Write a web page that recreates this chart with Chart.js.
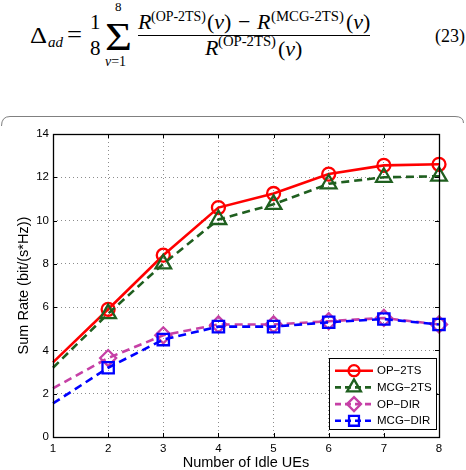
<!DOCTYPE html>
<html>
<head>
<meta charset="utf-8">
<script src="https://cdn.jsdelivr.net/npm/chart.js@4"></script>
<style>
  html, body { margin: 0; padding: 0; background: #fff; }
  #page { position: relative; width: 466px; height: 470px; overflow: hidden; }
  #eq { position: absolute; left: 0; top: 0; }
  #box { position: absolute; left: 0; top: 116px; width: 466px; height: 354px; }
</style>
</head>
<body>
<div id="page">
  <svg id="eq" width="466" height="130" font-family="'Liberation Serif','DejaVu Serif',serif" fill="#000">
    <text x="30" y="43" font-size="24" textLength="17" lengthAdjust="spacingAndGlyphs">Δ</text>
    <text x="48" y="47" font-size="15" font-style="italic">ad</text>
    <text x="67" y="43" font-size="26" textLength="15" lengthAdjust="spacingAndGlyphs">=</text>
    <text x="90" y="29" font-size="21">1</text>
    <text x="90" y="55" font-size="21">8</text>
    <text x="105" y="50" font-size="40" textLength="27" lengthAdjust="spacingAndGlyphs">Σ</text>
    <text x="115" y="11" font-size="13">8</text>
    <text x="105" y="66" font-size="14"><tspan font-style="italic">ν</tspan>=1</text>

    <!-- numerator -->
    <text x="138" y="29" font-size="22" font-style="italic">R</text>
    <text x="151" y="21" font-size="15" textLength="55" lengthAdjust="spacingAndGlyphs">(OP-2TS)</text>
    <text x="207" y="29" font-size="22">(<tspan font-style="italic">ν</tspan>)</text>
    <text x="238" y="29" font-size="22">−</text>
    <text x="257" y="29" font-size="22" font-style="italic">R</text>
    <text x="271" y="21" font-size="15" textLength="73" lengthAdjust="spacingAndGlyphs">(MCG-2TS)</text>
    <text x="346" y="29" font-size="22">(<tspan font-style="italic">ν</tspan>)</text>
    <line x1="138" y1="35.5" x2="370" y2="35.5" stroke="#000" stroke-width="1"/>
    <!-- denominator -->
    <text x="205" y="55" font-size="22" font-style="italic">R</text>
    <text x="218" y="46" font-size="15" textLength="58" lengthAdjust="spacingAndGlyphs">(OP-2TS)</text>
    <text x="278" y="56" font-size="22">(<tspan font-style="italic">ν</tspan>)</text>

    <text x="435" y="42" font-size="18">(23)</text>

    <!-- figure frame -->
    <path d="M1.5,126 Q1.5,116.5 10,116.5 L455,116.5 Q463.5,116.5 463.5,123" fill="none" stroke="#808080" stroke-width="1"/>
  </svg>
  <div id="box"><canvas id="chart" width="466" height="354"></canvas></div>
</div>

<script>
// number of idle UEs
const idleUEs = [1, 2, 3, 4, 5, 6, 7, 8];
const yTicks = [0, 2, 4, 6, 8, 10, 12, 14];

// sum rate, bit/(s*Hz)
const opTwoTs  = [3.45, 5.9, 8.4, 10.6, 11.25, 12.15, 12.55, 12.6];
const mcgTwoTs = [3.2, 5.7, 8.0, 10.05, 10.75, 11.7, 12.0, 12.05];
const opDir    = [2.25, 3.65, 4.7, 5.2, 5.2, 5.35, 5.5, 5.2];
const mcgDir   = [1.55, 3.2, 4.5, 5.1, 5.1, 5.3, 5.45, 5.2];

const seriesNames = ['OP\u22122TS', 'MCG\u22122TS', 'OP\u2212DIR', 'MCG\u2212DIR'];

const FONT = "'Liberation Sans', Arial, Helvetica, sans-serif";

const styles = [
  { color: '#ff0000', dash: [], marker: 'circle', r: 6.5 },
  { color: '#1f5f1f', dash: [8, 5], marker: 'triangle', r: 9 },
  { color: '#c640a6', dash: [8, 5], marker: 'rectRot', r: 8 },
  { color: '#0000ff', dash: [8, 5], marker: 'rect', r: 8 }
];

const toPoints = (vals) => idleUEs.map((x, i) => ({ x: x, y: vals[i] }));

const makeSet = (label, vals, st, order) => ({
  label: label,
  data: toPoints(vals),
  borderColor: st.color,
  borderWidth: 2.6,
  borderDash: st.dash,
  pointStyle: st.marker,
  pointRadius: idleUEs.map((x, i) => i === 0 ? 0 : st.r),
  pointBorderColor: st.color,
  pointBorderWidth: 2.3,
  pointBackgroundColor: 'rgba(0,0,0,0)',
  tension: 0,
  clip: false,
  order: order
});

// small helper for the legend markers
function drawMarker(ctx, type, x, y, r) {
  ctx.beginPath();
  if (type === 'circle') {
    ctx.arc(x, y, r, 0, Math.PI * 2);
  } else if (type === 'triangle') {
    ctx.moveTo(x, y - r);
    ctx.lineTo(x + r * 0.866, y + r * 0.5);
    ctx.lineTo(x - r * 0.866, y + r * 0.5);
    ctx.closePath();
  } else if (type === 'rectRot') {
    ctx.moveTo(x, y - r);
    ctx.lineTo(x + r, y);
    ctx.lineTo(x, y + r);
    ctx.lineTo(x - r, y);
    ctx.closePath();
  } else {
    const s = r * Math.SQRT1_2;
    ctx.rect(x - s, y - s, 2 * s, 2 * s);
  }
  ctx.stroke();
}

const matlabAxes = {
  id: 'matlabAxes',
  afterDraw(chart) {
    const { ctx, chartArea: a, scales } = chart;
    ctx.save();
    ctx.strokeStyle = '#000';
    ctx.lineWidth = 1;
    ctx.setLineDash([]);
    // inward ticks
    ctx.beginPath();
    idleUEs.forEach(v => {
      const px = Math.round(scales.x.getPixelForValue(v)) + 0.5;
      ctx.moveTo(px, a.bottom); ctx.lineTo(px, a.bottom - 4);
      ctx.moveTo(px, a.top); ctx.lineTo(px, a.top + 4);
    });
    yTicks.forEach(v => {
      const py = Math.round(scales.y.getPixelForValue(v)) + 0.5;
      ctx.moveTo(a.left, py); ctx.lineTo(a.left + 4, py);
      ctx.moveTo(a.right, py); ctx.lineTo(a.right - 4, py);
    });
    ctx.stroke();
    // axes box
    ctx.lineWidth = 1.3;
    ctx.strokeRect(Math.round(a.left) + 0.5, Math.round(a.top) + 0.5,
      Math.round(a.right - a.left), Math.round(a.bottom - a.top));

    // legend
    const lw = 107, lh = 71;
    const lx = a.right - 3 - lw, ly = a.bottom - 8 - lh;
    ctx.fillStyle = '#fff';
    ctx.fillRect(lx, ly, lw, lh);
    ctx.lineWidth = 1;
    ctx.strokeRect(lx + 0.5, ly + 0.5, lw, lh);
    ctx.font = '11.5px ' + FONT;
    ctx.textBaseline = 'middle';
    ctx.textAlign = 'left';
    seriesNames.forEach((name, i) => {
      const st = styles[i];
      const y = ly + 12.7 + i * 16.7;
      ctx.strokeStyle = st.color;
      ctx.lineWidth = 2.6;
      ctx.setLineDash(st.dash.length ? [6, 4] : []);
      ctx.beginPath();
      ctx.moveTo(lx + 6, y);
      ctx.lineTo(lx + 44, y);
      ctx.stroke();
      ctx.setLineDash([]);
      ctx.lineWidth = 2.3;
      drawMarker(ctx, st.marker, lx + 25, y, st.r - 1);
      ctx.fillStyle = '#000';
      ctx.fillText(name, lx + 48, y + 0.5);
    });
    ctx.restore();
  }
};

new Chart(document.getElementById('chart'), {
  type: 'line',
  data: {
    datasets: [
      makeSet(seriesNames[0], opTwoTs, styles[0], 4),
      makeSet(seriesNames[1], mcgTwoTs, styles[1], 3),
      makeSet(seriesNames[2], opDir, styles[2], 2),
      makeSet(seriesNames[3], mcgDir, styles[3], 1)
    ]
  },
  options: {
    responsive: false,
    animation: false,
    layout: { padding: { left: 0, right: 27, top: 18, bottom: 0 } },
    plugins: {
      legend: { display: false },
      tooltip: { enabled: false }
    },
    scales: {
      x: {
        type: 'linear',
        min: 1,
        max: 8,
        afterFit: (scale) => { scale.height = 33; },
        ticks: { stepSize: 1, color: '#000', padding: 5, font: { family: FONT, size: 11.5 } },
        grid: { color: '#8c8c8c', lineWidth: 1, drawTicks: false },
        border: { display: false, dash: [1, 3] },
        title: {
          display: true,
          text: 'Number of Idle UEs',
          color: '#000',
          padding: { top: 0, bottom: 0 },
          font: { family: FONT, size: 14.5, lineHeight: 1 }
        }
      },
      y: {
        min: 0,
        max: 14,
        afterFit: (scale) => { scale.width = 53; },
        afterBuildTicks: (scale) => { scale.ticks = yTicks.map(v => ({ value: v })); },
        ticks: { color: '#000', padding: 4, font: { family: FONT, size: 11.5 } },
        grid: { color: '#8c8c8c', lineWidth: 1, drawTicks: false },
        border: { display: false, dash: [1, 3] },
        title: {
          display: true,
          text: 'Sum Rate (bit/(s*Hz))',
          color: '#000',
          padding: { top: 17, bottom: 0 },
          font: { family: FONT, size: 14.5, lineHeight: 1 }
        }
      }
    }
  },
  plugins: [matlabAxes]
});
</script>
</body>
</html>
